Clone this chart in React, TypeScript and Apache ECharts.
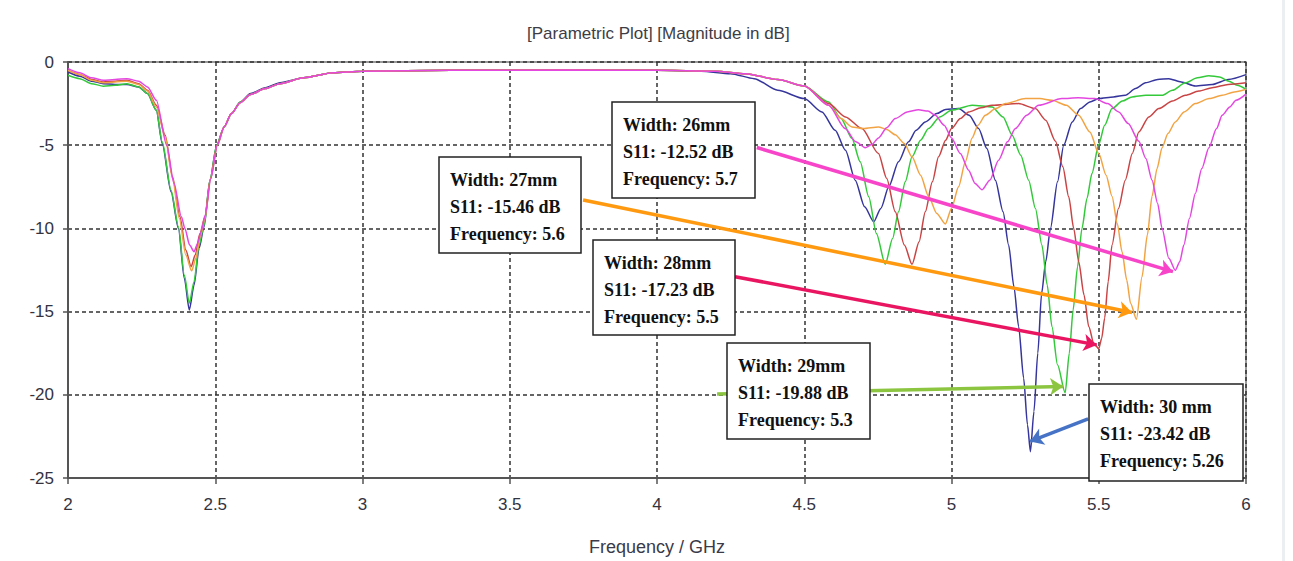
import React, { useEffect, useRef } from "react";
import * as echarts from "echarts";

// S11 traces for five patch widths, [frequency GHz, magnitude dB]
const width30: [number, number][] = [
  [2.0, -0.6], [2.04, -0.85], [2.08, -1.15], [2.12, -1.3], [2.16, -1.35], [2.2, -1.35], [2.24, -1.5],
  [2.27, -1.9], [2.3, -2.9], [2.32, -4.9], [2.35, -7.8], [2.375, -10.0], [2.395, -13.0], [2.412, -14.9],
  [2.428, -13.4], [2.445, -11.2], [2.462, -9.9], [2.482, -7.1], [2.505, -5.0], [2.53, -3.9], [2.555, -3.1],
  [2.585, -2.4], [2.62, -1.9], [2.67, -1.55], [2.72, -1.25], [2.8, -0.95], [2.9, -0.65], [3.0, -0.55],
  [3.3, -0.5], [3.7, -0.48], [4.0, -0.5], [4.15, -0.55], [4.25, -0.7], [4.33, -1.0], [4.41, -1.7],
  [4.5, -2.2], [4.56, -3.0], [4.605, -4.1], [4.64, -5.3], [4.673, -7.1], [4.705, -8.7], [4.736, -9.6],
  [4.76, -8.8], [4.787, -7.5], [4.82, -6.0], [4.854, -4.8], [4.88, -4.1], [4.911, -3.6], [4.95, -3.1],
  [4.98, -2.85], [5.024, -2.8], [5.06, -3.2], [5.092, -4.0], [5.12, -5.2], [5.149, -7.1], [5.175, -9.0],
  [5.194, -11.0], [5.212, -13.5], [5.228, -15.9], [5.245, -19.0], [5.258, -21.8], [5.268, -23.42],
  [5.28, -21.0], [5.293, -17.5], [5.306, -13.9], [5.32, -12.0], [5.336, -10.0], [5.36, -7.2], [5.381, -5.0],
  [5.41, -3.6], [5.438, -2.8], [5.47, -2.4], [5.5, -2.2], [5.55, -2.1], [5.59, -2.0], [5.625, -1.6],
  [5.659, -1.25], [5.7, -1.05], [5.738, -1.0], [5.78, -1.2], [5.828, -1.44], [5.885, -1.35], [5.94, -1.05],
  [6.0, -0.76],
];

const width29: [number, number][] = [
  [2.0, -0.8], [2.04, -1.0], [2.08, -1.3], [2.12, -1.45], [2.16, -1.4], [2.2, -1.3], [2.24, -1.5],
  [2.27, -1.9], [2.3, -2.9], [2.32, -4.8], [2.35, -7.7], [2.375, -9.9], [2.395, -12.8], [2.412, -14.5],
  [2.428, -13.2], [2.445, -11.0], [2.462, -9.8], [2.482, -7.1], [2.505, -5.0], [2.53, -3.9], [2.555, -3.1],
  [2.585, -2.4], [2.62, -1.95], [2.67, -1.6], [2.72, -1.3], [2.8, -0.95], [2.9, -0.65], [3.0, -0.55],
  [3.3, -0.5], [3.7, -0.48], [4.0, -0.5], [4.2, -0.55], [4.3, -0.7], [4.41, -1.05], [4.5, -1.44],
  [4.583, -2.4], [4.625, -3.4], [4.662, -4.6], [4.69, -6.0], [4.719, -8.1], [4.745, -10.3], [4.775, -12.16],
  [4.8, -10.6], [4.82, -9.0], [4.843, -7.2], [4.866, -5.7], [4.895, -4.7], [4.922, -4.0], [4.96, -3.3],
  [5.0, -2.9], [5.07, -2.6], [5.138, -2.7], [5.175, -3.3], [5.206, -4.4], [5.235, -5.6], [5.262, -7.1],
  [5.285, -8.8], [5.307, -11.0], [5.325, -13.4], [5.341, -15.9], [5.36, -18.2], [5.386, -19.88],
  [5.4, -17.5], [5.413, -14.9], [5.428, -12.3], [5.443, -10.0], [5.46, -8.2], [5.477, -6.7], [5.5, -4.95],
  [5.52, -3.8], [5.545, -2.8], [5.58, -2.35], [5.613, -2.1], [5.66, -2.0], [5.715, -2.0], [5.75, -1.7],
  [5.794, -1.25], [5.835, -0.95], [5.874, -0.82], [5.91, -0.9], [5.942, -1.15], [5.97, -1.4], [6.0, -1.64],
];

const width28: [number, number][] = [
  [2.0, -0.5], [2.04, -0.75], [2.08, -1.05], [2.12, -1.2], [2.16, -1.15], [2.2, -1.1], [2.24, -1.3],
  [2.27, -1.7], [2.3, -2.6], [2.33, -4.4], [2.355, -6.9], [2.38, -9.3], [2.4, -11.3], [2.418, -12.3],
  [2.432, -11.6], [2.448, -10.3], [2.465, -9.3], [2.484, -7.0], [2.507, -5.0], [2.53, -3.9], [2.555, -3.1],
  [2.585, -2.45], [2.62, -1.95], [2.67, -1.6], [2.72, -1.3], [2.8, -0.95], [2.9, -0.65], [3.0, -0.55],
  [3.3, -0.5], [3.7, -0.48], [4.0, -0.5], [4.2, -0.55], [4.3, -0.7], [4.41, -1.05], [4.5, -1.44],
  [4.583, -2.5], [4.64, -3.3], [4.696, -4.0], [4.752, -5.5], [4.78, -7.0], [4.809, -9.0], [4.84, -11.0],
  [4.866, -12.16], [4.89, -10.8], [4.911, -9.0], [4.935, -7.2], [4.956, -5.7], [4.98, -4.7], [5.0, -4.0],
  [5.03, -3.4], [5.058, -3.0], [5.1, -2.75], [5.138, -2.6], [5.228, -2.5], [5.285, -2.8], [5.32, -3.5],
  [5.353, -4.76], [5.378, -6.3], [5.398, -8.1], [5.415, -10.0], [5.432, -12.0], [5.45, -14.0],
  [5.466, -15.9], [5.483, -16.9], [5.5, -17.23], [5.51, -16.6], [5.52, -15.4], [5.532, -13.2],
  [5.545, -11.0], [5.567, -8.8], [5.59, -7.1], [5.614, -5.5], [5.636, -4.2], [5.67, -3.3], [5.704, -2.8],
  [5.75, -2.35], [5.794, -2.0], [5.84, -1.75], [5.885, -1.54], [5.94, -1.35], [6.0, -1.25],
];

const width27: [number, number][] = [
  [2.0, -0.5], [2.04, -0.75], [2.08, -1.1], [2.12, -1.25], [2.16, -1.2], [2.2, -1.15], [2.24, -1.35],
  [2.27, -1.75], [2.3, -2.7], [2.33, -4.5], [2.355, -7.0], [2.378, -9.4], [2.4, -11.6], [2.42, -12.55],
  [2.434, -11.8], [2.45, -10.4], [2.465, -9.4], [2.484, -7.0], [2.507, -5.0], [2.53, -3.9], [2.555, -3.1],
  [2.585, -2.45], [2.62, -1.95], [2.67, -1.6], [2.72, -1.3], [2.8, -0.95], [2.9, -0.65], [3.0, -0.55],
  [3.3, -0.5], [3.7, -0.48], [4.0, -0.5], [4.2, -0.55], [4.3, -0.7], [4.41, -1.05], [4.5, -1.44],
  [4.583, -2.6], [4.625, -3.4], [4.662, -3.9], [4.7, -4.0], [4.752, -3.9], [4.78, -4.05], [4.809, -4.37],
  [4.84, -4.9], [4.866, -5.7], [4.895, -6.8], [4.922, -8.07], [4.95, -9.1], [4.979, -9.73], [5.0, -8.8],
  [5.024, -7.5], [5.047, -6.0], [5.07, -4.56], [5.09, -3.8], [5.115, -3.2], [5.15, -2.8], [5.183, -2.5],
  [5.251, -2.2], [5.3, -2.2], [5.341, -2.3], [5.39, -2.6], [5.432, -3.2], [5.47, -4.2], [5.5, -5.5],
  [5.525, -6.8], [5.545, -8.07], [5.563, -9.7], [5.579, -11.4], [5.595, -13.1], [5.608, -14.5],
  [5.628, -15.46], [5.647, -12.9], [5.665, -10.4], [5.681, -8.07], [5.698, -6.4], [5.715, -5.15],
  [5.735, -4.3], [5.76, -3.6], [5.79, -3.0], [5.828, -2.5], [5.875, -2.2], [5.919, -2.0], [5.96, -1.8],
  [6.0, -1.64],
];

const width26: [number, number][] = [
  [2.0, -0.4], [2.04, -0.65], [2.08, -0.95], [2.12, -1.1], [2.16, -1.05], [2.2, -1.0], [2.24, -1.15],
  [2.27, -1.5], [2.3, -2.3], [2.335, -5.0], [2.36, -7.3], [2.385, -9.3], [2.397, -10.0], [2.413, -11.0],
  [2.428, -11.4], [2.44, -10.9], [2.452, -10.2], [2.466, -9.2], [2.485, -7.0], [2.507, -5.0], [2.53, -3.9],
  [2.555, -3.1], [2.585, -2.45], [2.62, -1.95], [2.67, -1.6], [2.72, -1.3], [2.8, -0.95], [2.9, -0.65],
  [3.0, -0.55], [3.3, -0.5], [3.7, -0.48], [4.0, -0.5], [4.2, -0.55], [4.3, -0.7], [4.41, -1.05],
  [4.5, -1.44], [4.583, -2.6], [4.639, -4.0], [4.675, -4.8], [4.707, -5.15], [4.73, -4.95], [4.752, -4.56],
  [4.78, -3.95], [4.809, -3.4], [4.85, -3.0], [4.888, -2.87], [4.92, -2.95], [4.945, -3.2], [4.975, -3.8],
  [5.0, -4.56], [5.03, -5.5], [5.058, -6.5], [5.08, -7.3], [5.104, -7.68], [5.13, -7.1], [5.16, -5.9],
  [5.19, -4.8], [5.217, -4.0], [5.255, -3.2], [5.296, -2.6], [5.375, -2.2], [5.43, -2.15], [5.486, -2.2],
  [5.53, -2.5], [5.568, -3.0], [5.6, -3.7], [5.636, -4.76], [5.66, -5.8], [5.681, -7.1], [5.7, -8.5],
  [5.715, -10.0], [5.738, -11.8], [5.76, -12.52], [5.775, -12.0], [5.789, -11.0], [5.808, -9.4],
  [5.828, -7.9], [5.85, -6.4], [5.874, -5.15], [5.9, -4.0], [5.919, -3.2], [5.945, -2.7], [5.966, -2.3],
  [6.0, -1.93],
];

// Annotation contents
const widthLabels = ["26mm", "27mm", "28mm", "29mm", "30 mm"];
const s11Values = [-12.52, -15.46, -17.23, -19.88, -23.42];
const freqLabels = ["5.7", "5.6", "5.5", "5.3", "5.26"];

const xTicks = [2, 2.5, 3, 3.5, 4, 4.5, 5, 5.5, 6];

export default function App() {
  const ref = useRef<HTMLDivElement>(null);

  useEffect(() => {
    if (!ref.current) return;
    const chart = echarts.init(ref.current, null, { renderer: "svg" });

    const traces = [
      { name: "30 mm", data: width30, color: "#35359c" },
      { name: "29 mm", data: width29, color: "#33c93a" },
      { name: "28 mm", data: width28, color: "#c94545" },
      { name: "27 mm", data: width27, color: "#f2a445" },
      { name: "26 mm", data: width26, color: "#e447e0" },
    ];

    // arrows from each annotation box to its resonance dip
    const arrows: Record<string, { from: number[]; to: number[]; color: string }> = {
      "26 mm": { from: [4.339, -5.14], to: [5.752, -12.6], color: "#f744c8" },
      "27 mm": { from: [3.749, -8.29], to: [5.613, -15.05], color: "#ff9a10" },
      "28 mm": { from: [4.265, -12.9], to: [5.493, -17.0], color: "#ea1560" },
      "29 mm": { from: [4.204, -19.95], to: [5.379, -19.5], color: "#8cc641" },
      "30 mm": { from: [5.464, -21.45], to: [5.267, -22.8], color: "#4673c6" },
    };

    const series = traces.map((t) => ({
      type: "line",
      name: t.name,
      data: t.data,
      showSymbol: false,
      smooth: 0.25,
      smoothMonotone: "x",
      silent: true,
      lineStyle: { color: t.color, width: 1.5 },
      itemStyle: { color: t.color },
      z: 3,
      markLine: {
        silent: true,
        animation: false,
        symbol: ["none", "arrow"],
        symbolSize: 13,
        label: { show: false },
        lineStyle: { color: arrows[t.name].color, width: 3.5, type: "solid" },
        emphasis: { disabled: true },
        data: [[{ coord: arrows[t.name].from }, { coord: arrows[t.name].to }]],
      },
    }));

    const boxes = [
      { x: 612, y: 102, w: 143, h: 96 },
      { x: 439, y: 157, w: 142, h: 96 },
      { x: 593, y: 240, w: 142, h: 95 },
      { x: 727, y: 343, w: 143, h: 96 },
      { x: 1089, y: 384, w: 154, h: 97 },
    ];

    const graphic: any[] = boxes.map((b, i) => ({
      type: "group",
      x: b.x,
      y: b.y,
      z: 100,
      children: [
        {
          type: "rect",
          shape: { x: 0, y: 0, width: b.w, height: b.h },
          style: { fill: "#ffffff", stroke: "#222222", lineWidth: 1.5 },
          z: 100,
        },
        {
          type: "text",
          x: 11,
          y: 9,
          z: 101,
          style: {
            text: [
              `Width: ${widthLabels[i]}`,
              `S11: ${s11Values[i].toFixed(2)} dB`,
              `Frequency: ${freqLabels[i]}`,
            ].join("\n"),
            font: 'bold 18px "Liberation Serif"',
            lineHeight: 27,
            fill: "#111111",
            verticalAlign: "top",
            align: "left",
          },
        },
      ],
    }));

    graphic.push({
      type: "rect",
      shape: { x: 1282, y: 0, width: 3, height: 561 },
      style: { fill: "#eceff2" },
      z: 1,
      silent: true,
    });

    chart.setOption({
      animation: false,
      backgroundColor: "#ffffff",
      title: {
        text: "[Parametric Plot] [Magnitude in dB]",
        left: 522,
        top: 20,
        textStyle: {
          fontFamily: "Liberation Sans",
          fontSize: 17,
          fontWeight: "normal",
          color: "#3d3d45",
        },
      },
      grid: {
        left: 68,
        right: 47,
        top: 62,
        bottom: 71,
        show: true,
        borderColor: "#7a7a7a",
        borderWidth: 1.5,
        backgroundColor: "#ffffff",
      },
      xAxis: {
        type: "value",
        min: xTicks[0],
        max: xTicks[xTicks.length - 1],
        interval: 0.5,
        name: "Frequency / GHz",
        nameLocation: "middle",
        nameGap: 60,
        nameTextStyle: { fontFamily: "Liberation Sans", fontSize: 18, color: "#3a3a48" },
        axisLine: { onZero: false, lineStyle: { color: "#555555", width: 2 } },
        axisTick: { show: true, length: 6, lineStyle: { color: "#555555", width: 1.5 } },
        axisLabel: { fontFamily: "Liberation Sans", fontSize: 17, color: "#333340", margin: 18 },
        splitLine: { show: true, lineStyle: { color: "#333333", width: 1.5, type: [4, 3] } },
      },
      yAxis: {
        type: "value",
        min: -25,
        max: 0,
        interval: 5,
        axisLine: { onZero: false, lineStyle: { color: "#555555", width: 2 } },
        axisTick: { show: true, length: 5, lineStyle: { color: "#555555", width: 1.5 } },
        axisLabel: { fontFamily: "Liberation Sans", fontSize: 17, color: "#333340", margin: 14 },
        splitLine: { show: true, lineStyle: { color: "#333333", width: 1.5, type: [4, 3] } },
      },
      series,
      graphic,
    });

    return () => chart.dispose();
  }, []);

  return (
    <div
      ref={ref}
      style={{ position: "fixed", left: 0, top: 0, width: 1293, height: 561, background: "#fff" }}
    />
  );
}
